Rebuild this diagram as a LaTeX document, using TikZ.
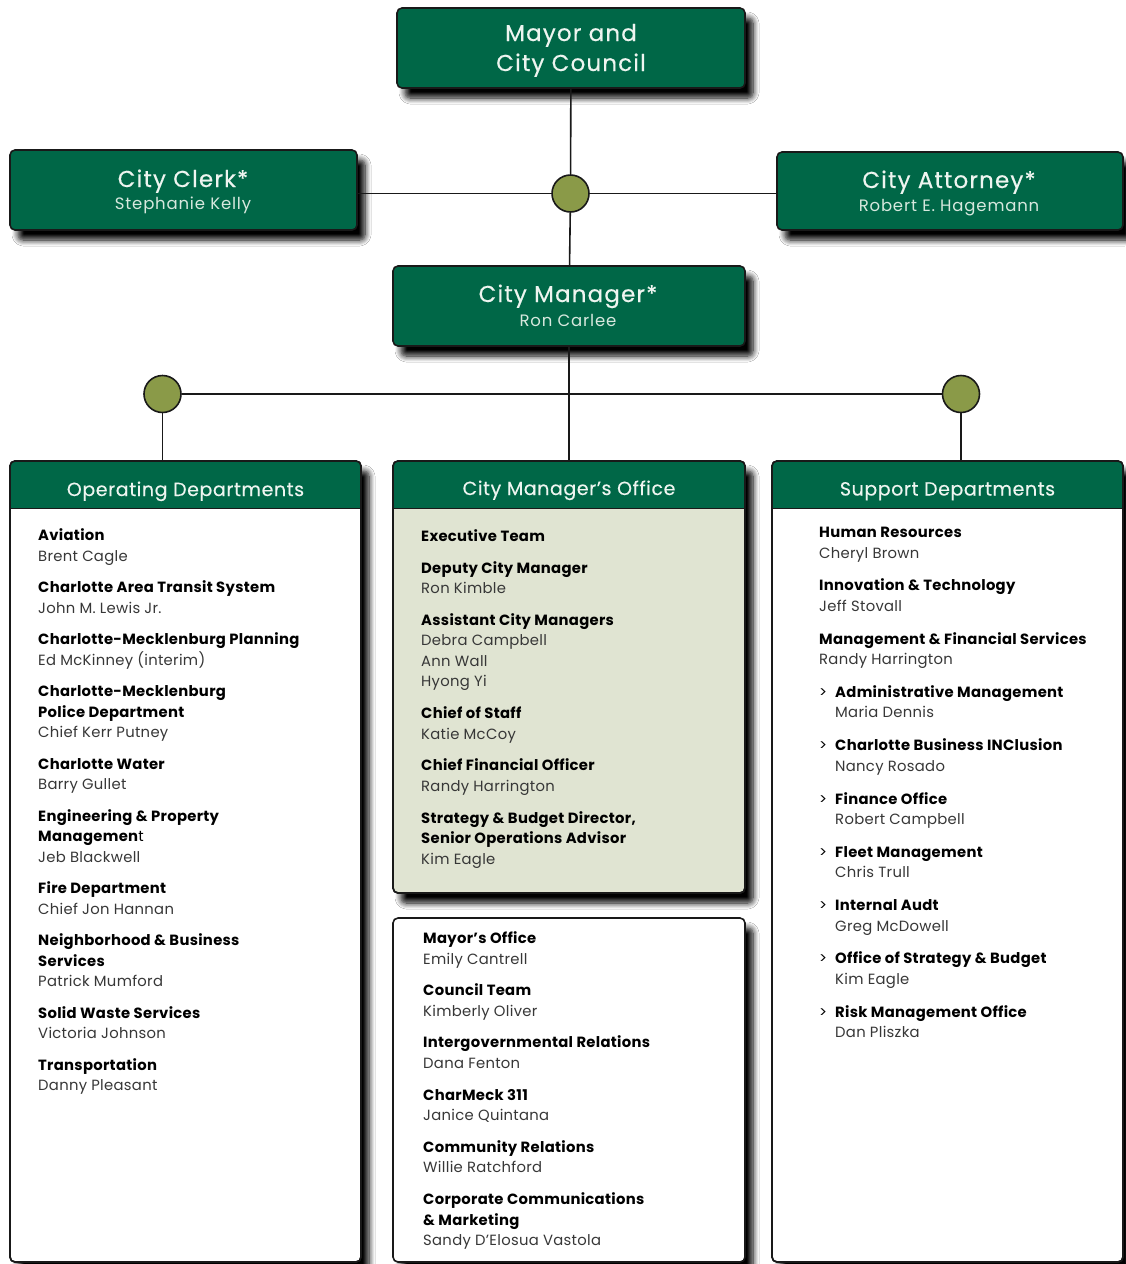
\documentclass[tikz,border=0pt]{standalone}
\usepackage{fontspec}
\setmainfont{Poppins}
\usetikzlibrary{shadows.blur}
\definecolor{cgreen}{RGB}{0,103,71}
\definecolor{olive}{RGB}{138,154,72}
\definecolor{pale}{RGB}{224,228,210}
\definecolor{ink}{RGB}{25,25,25}
\definecolor{gray1}{RGB}{55,55,55}
\definecolor{wtxt}{RGB}{238,245,240}
\definecolor{wname}{RGB}{215,232,222}
\newcommand\nm[1]{{\color{gray1}#1}}
\newcommand\bd[1]{\textbf{#1}}
\newcommand\gt{\makebox[16pt][l]{>}}
\newcommand\ind{\hspace*{16pt}}
\newcommand\colbody[2]{\begin{minipage}[t]{330pt}\fontsize{14.8}{20.5}\selectfont\addfontfeature{LetterSpace=2}\raggedright\def\gap{\\[#1]}#2\end{minipage}}
\begin{document}
\begin{tikzpicture}[x=1pt,y=-1pt,
  panel/.style={draw=ink, line width=1.6pt, rounded corners=5pt, inner sep=0pt, outer sep=0pt,
    anchor=north west,
    blur shadow={shadow xshift=8pt, shadow yshift=-10pt, shadow blur radius=6pt, shadow blur steps=8, shadow opacity=100}},
  gbox/.style={panel, fill=cgreen},
  dot/.style={circle, draw=ink, line width=1.6pt, fill=olive, minimum size=37pt, inner sep=0pt},
  conn/.style={draw=ink, line width=1.6pt},
  bigt/.style={anchor=base, text=wtxt, font=\fontsize{23}{26}\selectfont\addfontfeature{LetterSpace=5,FakeBold=0.4}, inner sep=0pt},
  namet/.style={anchor=base, text=wname, font=\fontsize{16.5}{18}\selectfont\addfontfeature{LetterSpace=5}, inner sep=0pt},
  headt/.style={anchor=base, text=wtxt, font=\fontsize{19}{22}\selectfont\addfontfeature{LetterSpace=3,FakeBold=0.3}, inner sep=0pt},
  listt/.style={anchor=base west, inner sep=0pt, text=black},
  border/.style={draw=ink, line width=1.6pt, rounded corners=5pt},
]
\fill[white] (0,0) rectangle (1125,1264);
\useasboundingbox (0,0) rectangle (1125,1264);

% top boxes
\node[gbox, minimum width=348pt, minimum height=80pt] (mayor) at (397,8) {};
\node[gbox, minimum width=347pt, minimum height=80pt] (clerk) at (10,150) {};
\node[gbox, minimum width=346pt, minimum height=78pt] (atty) at (777,152) {};
\node[gbox, minimum width=352pt, minimum height=80pt] (mgr) at (393,266) {};

\node[bigt] (mayorA) at (571,41) {Mayor and};
\node[bigt] (mayorB) at (571,71) {City Council};
\node[bigt] (clerkT) at (183,187) {City Clerk*};
\node[namet] (clerkN) at (183,209) {Stephanie Kelly};
\node[bigt] (attyT) at (949,188) {City Attorney*};
\node[namet] (attyN) at (949,211) {Robert E. Hagemann};
\node[bigt] (mgrT) at (568,302) {City Manager*};
\node[namet] (mgrN) at (568,326) {Ron Carlee};

% panels
\node[panel, fill=white, minimum width=351pt, minimum height=801pt] (ops) at (10,461) {};
\node[panel, fill=pale, minimum width=352pt, minimum height=432pt] (cmo) at (393,461) {};
\node[panel, fill=white, minimum width=352pt, minimum height=344pt] (cmo2) at (393,918) {};
\node[panel, fill=white, minimum width=351pt, minimum height=801pt] (sup) at (772,461) {};

\foreach \p in {ops,cmo,sup}{
  \begin{scope}
    \clip[rounded corners=5pt] (\p.north west) rectangle (\p.south east);
    \fill[cgreen] (\p.north west) rectangle ([yshift=-47.5pt]\p.north east);
  \end{scope}
  \draw[conn] ([yshift=-47.5pt]\p.north west) -- ([yshift=-47.5pt]\p.north east);
  \draw[border] (\p.north west) rectangle (\p.south east);
}

\node[headt] (opsH) at (185.5,496) {Operating Departments};
\node[headt] (cmoH) at (569,495) {City Manager’s Office};
\node[headt] (supH) at (947.5,495.5) {Support Departments};

% circles and connectors
\node[dot] (c1) at (570.5,193.5) {};
\node[dot] (c2) at (162.5,394) {};
\node[dot] (c3) at (961,394) {};

\draw[conn] (mayor) -- (c1);
\draw[conn] (c1) -- (mgr);
\draw[conn] (c1) -- (clerk.east |- c1);
\draw[conn] (c1) -- (atty.west |- c1);
\draw[conn] (mgr) -- (cmo);
\draw[conn] (c2) -- (c3);
\draw[conn] (c2) -- (c2 |- ops.north);
\draw[conn] (c3) -- (c3 |- sup.north);

% lists
\node[listt] (opsL) at (38,540.5) {\colbody{11pt}{%
\bd{Aviation}\\\nm{Brent Cagle}\gap
\bd{Charlotte Area Transit System}\\\nm{John M. Lewis Jr.}\gap
\bd{Charlotte-Mecklenburg Planning}\\\nm{Ed McKinney (interim)}\gap
\bd{Charlotte-Mecklenburg}\\\bd{Police Department}\\\nm{Chief Kerr Putney}\gap
\bd{Charlotte Water}\\\nm{Barry Gullet}\gap
\bd{Engineering \& Property}\\\bd{Managemen}t\\\nm{Jeb Blackwell}\gap
\bd{Fire Department}\\\nm{Chief Jon Hannan}\gap
\bd{Neighborhood \& Business}\\\bd{Services}\\\nm{Patrick Mumford}\gap
\bd{Solid Waste Services}\\\nm{Victoria Johnson}\gap
\bd{Transportation}\\\nm{Danny Pleasant}}};

\node[listt] (cmoL) at (421,541.5) {\colbody{11.2pt}{%
\bd{Executive Team}\gap
\bd{Deputy City Manager}\\\nm{Ron Kimble}\gap
\bd{Assistant City Managers}\\\nm{Debra Campbell}\\\nm{Ann Wall}\\\nm{Hyong Yi}\gap
\bd{Chief of Staff}\\\nm{Katie McCoy}\gap
\bd{Chief Financial Officer}\\\nm{Randy Harrington}\gap
\bd{Strategy \& Budget Director,}\\\bd{Senior Operations Advisor}\\\nm{Kim Eagle}}};

\node[listt] (cmo2L) at (423,943.5) {\colbody{11.2pt}{%
\bd{Mayor’s Office}\\\nm{Emily Cantrell}\gap
\bd{Council Team}\\\nm{Kimberly Oliver}\gap
\bd{Intergovernmental Relations}\\\nm{Dana Fenton}\gap
\bd{CharMeck 311}\\\nm{Janice Quintana}\gap
\bd{Community Relations}\\\nm{Willie Ratchford}\gap
\bd{Corporate Communications}\\\bd{\& Marketing}\\\nm{Sandy D’Elosua Vastola}}};

\node[listt] (supL) at (819,537.5) {\colbody{12.3pt}{%
\bd{Human Resources}\\\nm{Cheryl Brown}\gap
\bd{Innovation \& Technology}\\\nm{Jeff Stovall}\gap
\bd{Management \& Financial Services}\\\nm{Randy Harrington}\gap
\gt\bd{Administrative Management}\\\ind\nm{Maria Dennis}\gap
\gt\bd{Charlotte Business INClusion}\\\ind\nm{Nancy Rosado}\gap
\gt\bd{Finance Office}\\\ind\nm{Robert Campbell}\gap
\gt\bd{Fleet Management}\\\ind\nm{Chris Trull}\gap
\gt\bd{Internal Audt}\\\ind\nm{Greg McDowell}\gap
\gt\bd{Office of Strategy \& Budget}\\\ind\nm{Kim Eagle}\gap
\gt\bd{Risk Management Office}\\\ind\nm{Dan Pliszka}}};
\end{tikzpicture}
\end{document}
